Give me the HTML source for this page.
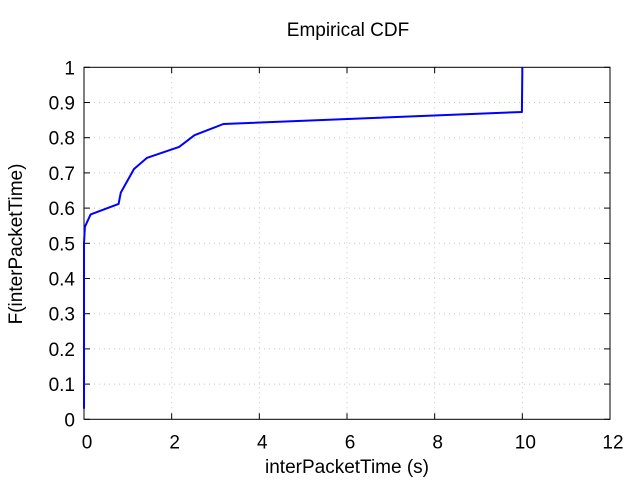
<!DOCTYPE html>
<html><head><meta charset="utf-8"><style>
body{margin:0;background:#fff;}
text{font-family:"Liberation Sans",sans-serif;fill:#000;}
</style></head><body>
<svg id="chart" width="640" height="480"></svg>
<script>
const xTicks=[0,2,4,6,8,10,12];
const yTicks=[0,0.1,0.2,0.3,0.4,0.5,0.6,0.7,0.8,0.9,1];
const yTickLabels=["0","0.1","0.2","0.3","0.4","0.5","0.6","0.7","0.8","0.9","1"];
const xValues=[0,0,0.02,0.15,0.79,0.84,1.14,1.44,2.17,2.52,3.18,9.99,10.0,10.0];
const yValues=[0.03,0.5,0.547,0.582,0.612,0.644,0.711,0.743,0.774,0.807,0.839,0.873,0.98,1.0];
const L=84,R=610,T=67.3,B=419.3;
const sx=v=>L+(v-0)/(12-0)*(R-L);
const sy=v=>B-(v-0)/(1-0)*(B-T);
const svg=document.getElementById('chart');
const NS='http://www.w3.org/2000/svg';
function mk(tag,attrs,parent){const e=document.createElementNS(NS,tag);for(const k in attrs)e.setAttribute(k,attrs[k]);(parent||svg).appendChild(e);return e;}
const grid=mk('g',{});


xTicks.forEach(v=>{
  if(v>0&&v<12){const g=mk('line',{x1:sx(v),x2:sx(v),y1:T,y2:B,stroke:'#c8c8c8','stroke-dasharray':'1,4'},grid);
  
  }
  const t=mk('line',{x1:sx(v),x2:sx(v),y1:B,y2:B-6,stroke:'#000'});
  
  
  const t2=mk('line',{x1:sx(v),x2:sx(v),y1:T,y2:T+6,stroke:'#000'});
  
  
  const lb=mk('text',{x:sx(v)+3,y:B+29,'text-anchor':'middle','font-size':'19'});
  lb.textContent=String(v);
  
  
});
yTicks.forEach((v,i)=>{
  if(v>0&&v<1){const g=mk('line',{x1:L,x2:R,y1:sy(v),y2:sy(v),stroke:'#c8c8c8','stroke-dasharray':'1,4'},grid);
  
  }
  const t=mk('line',{x1:L,x2:L+6,y1:sy(v),y2:sy(v),stroke:'#000'});
  
  
  const t2=mk('line',{x1:R,x2:R-6,y1:sy(v),y2:sy(v),stroke:'#000'});
  
  
  const lb=mk('text',{x:L-9,y:sy(v)+7,'text-anchor':'end','font-size':'19'});
  lb.textContent=yTickLabels[i];
  
  
});
const frame=mk('rect',{x:L,y:T,width:R-L,height:B-T,fill:'none',stroke:'#000'});


const pts=xValues.map((x,i)=>sx(x).toFixed(1)+','+sy(yValues[i]).toFixed(1)).join(' ');
const line=mk('polyline',{points:pts,fill:'none',stroke:'#0000ff','stroke-width':'2','stroke-linejoin':'round'});


const title=mk('text',{x:348,y:36,'text-anchor':'middle','font-size':'19'});
title.textContent='Empirical CDF';


const xt=mk('text',{x:347,y:473,'text-anchor':'middle','font-size':'19'});
xt.textContent='interPacketTime (s)';


const yt=mk('text',{x:0,y:0,'text-anchor':'middle','font-size':'19',transform:'translate(22,244) rotate(-90)'});
yt.textContent='F(interPacketTime)';


</script>
</body></html>
